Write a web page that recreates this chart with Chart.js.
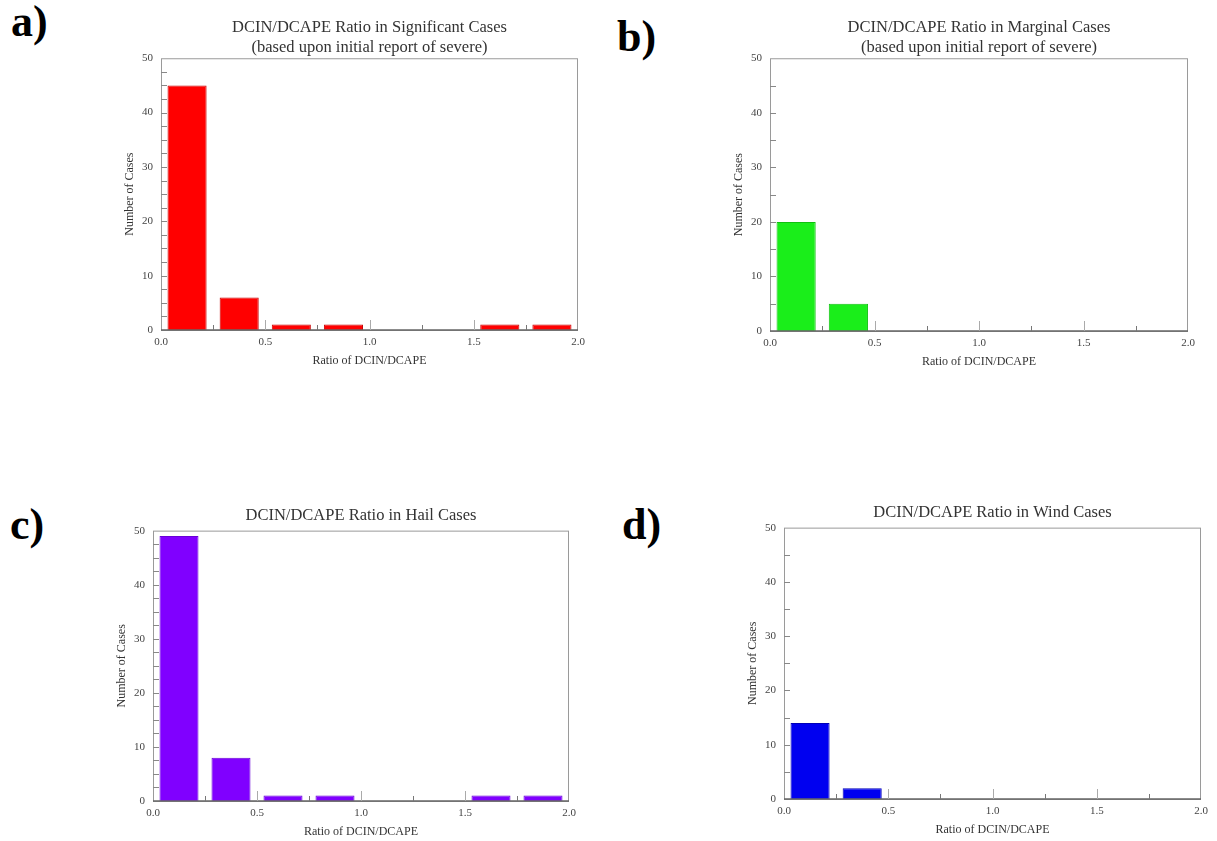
<!DOCTYPE html>
<html>
<head>
<meta charset="utf-8">
<title>DCIN/DCAPE Ratio</title>
<script src="https://cdn.jsdelivr.net/npm/chart.js@4.4.1/dist/chart.umd.min.js"></script>
<style>
  body { margin: 0; background: #fff; width: 1217px; height: 841px; position: relative; overflow: hidden; }
  .panel { position: absolute; }
  .tag { position: absolute; font-family: "Liberation Serif", serif; font-weight: bold; font-size: 44px; line-height: 44px; color: #000; }
</style>
</head>
<body>
<div class="tag" style="left:11px;top:0px">a)</div>
<div class="tag" style="left:617px;top:15px">b)</div>
<div class="tag" style="left:10px;top:503px">c)</div>
<div class="tag" style="left:622px;top:503px">d)</div>

<div class="panel" style="left:117px;top:0px;width:477px;height:370px"><canvas id="chartA"></canvas></div>
<div class="panel" style="left:726px;top:0px;width:478px;height:371px"><canvas id="chartB"></canvas></div>
<div class="panel" style="left:109px;top:480px;width:476px;height:361px"><canvas id="chartC"></canvas></div>
<div class="panel" style="left:740px;top:480px;width:477px;height:359px"><canvas id="chartD"></canvas></div>

<script>
// histogram bins of 0.25 (centres) and the counts
var binCenters = [0.125, 0.375, 0.625, 0.875, 1.125, 1.375, 1.625, 1.875];
var significantCases = [45, 6, 1, 1, 0, 0, 1, 1];
var marginalCases = [20, 5, 0, 0, 0, 0, 0, 0];
var hailCases = [49, 8, 1, 1, 0, 0, 1, 1];
var windCases = [14, 2, 0, 0, 0, 0, 0, 0];

var xTickValues = [0.0, 0.5, 1.0, 1.5, 2.0];
var xMinorTicks = [0.25, 0.5, 0.75, 1.0, 1.25, 1.5, 1.75];
var yTickValues = [0, 10, 20, 30, 40, 50];
var xLabel = "Ratio of DCIN/DCAPE";
var yLabel = "Number of Cases";

var serif = '"Liberation Serif", "Times New Roman", serif';

// plot box and the little inward tick marks
var framePlugin = {
  id: 'frame',
  afterDatasetsDraw: function(chart, args, opts) {
    var a = chart.chartArea, ctx = chart.ctx;
    var xs = chart.scales.x, ys = chart.scales.y;
    ctx.save();
    ctx.lineWidth = 1;
    ctx.strokeStyle = '#9a9a9a';
    ctx.strokeRect(a.left + 0.5, a.top + 0.5, a.right - a.left - 1, a.bottom - a.top);
    ctx.strokeStyle = '#666';
    ctx.lineWidth = 1.5;
    ctx.beginPath();
    ctx.moveTo(a.left, a.bottom);
    ctx.lineTo(a.right, a.bottom);
    ctx.stroke();

    ctx.lineWidth = 1;
    xMinorTicks.forEach(function(v) {
      var px = Math.round(xs.getPixelForValue(v)) + 0.5;
      var len = (v * 2) % 1 === 0 ? 10 : 5;
      ctx.strokeStyle = (v * 2) % 1 === 0 ? '#aaa' : '#777';
      ctx.beginPath();
      ctx.moveTo(px, a.bottom);
      ctx.lineTo(px, a.bottom - len);
      ctx.stroke();
    });

    ctx.strokeStyle = '#888';
    for (var v = opts.yStep; v < 50; v += opts.yStep) {
      var py = Math.round(ys.getPixelForValue(v)) + 0.5;
      ctx.beginPath();
      ctx.moveTo(a.left, py);
      ctx.lineTo(a.left + 6, py);
      ctx.stroke();
    }
    ctx.restore();
  }
};

function makeChart(id, titleText, values, fill, edge, yStep, titlePad) {
  return new Chart(document.getElementById(id), {
    type: 'bar',
    data: {
      datasets: [{
        data: binCenters.map(function(x, i) { return { x: x, y: values[i] }; }),
        backgroundColor: fill,
        borderColor: edge,
        borderWidth: 1,
        barPercentage: 0.75,
        categoryPercentage: 1
      }]
    },
    options: {
      responsive: true,
      maintainAspectRatio: false,
      animation: false,
      layout: { padding: { left: 0, right: 16, top: 0, bottom: 0 } },
      scales: {
        x: {
          type: 'linear',
          min: 0,
          max: 2,
          offset: false,
          grid: { display: false, drawTicks: false },
          border: { display: false },
          afterBuildTicks: function(axis) {
            axis.ticks = xTickValues.map(function(v) { return { value: v }; });
          },
          afterFit: function(axis) { axis.height = 40; },
          ticks: {
            padding: 6,
            maxRotation: 0,
            color: '#444',
            font: { family: serif, size: 11 },
            callback: function(v) { return Number(v).toFixed(1); }
          },
          title: {
            display: true,
            text: xLabel,
            color: '#333',
            font: { family: serif, size: 12 },
            padding: { top: 0, bottom: 2 }
          }
        },
        y: {
          min: 0,
          max: 50,
          grid: { display: false, drawTicks: false },
          border: { display: false },
          afterBuildTicks: function(axis) {
            axis.ticks = yTickValues.map(function(v) { return { value: v }; });
          },
          afterFit: function(axis) { axis.width = 44; },
          ticks: {
            padding: 8,
            color: '#444',
            font: { family: serif, size: 11 }
          },
          title: {
            display: true,
            text: yLabel,
            color: '#333',
            font: { family: serif, size: 12 },
            padding: { top: 6, bottom: 0 }
          }
        }
      },
      plugins: {
        legend: { display: false },
        tooltip: { enabled: false },
        title: {
          display: true,
          text: titleText,
          fullSize: false,
          color: '#333',
          font: { family: serif, size: 16.5, weight: 'normal', lineHeight: 1.25 },
          padding: titlePad
        },
        frame: { yStep: yStep }
      }
    },
    plugins: [framePlugin]
  });
}

makeChart('chartA',
  ['DCIN/DCAPE Ratio in Significant Cases', '(based upon initial report of severe)'],
  significantCases, '#ff0000', '#c80000', 2.5, { top: 17, bottom: 0 });
makeChart('chartB',
  ['DCIN/DCAPE Ratio in Marginal Cases', '(based upon initial report of severe)'],
  marginalCases, '#1aee1a', '#10c010', 5, { top: 17, bottom: 0 });
makeChart('chartC', 'DCIN/DCAPE Ratio in Hail Cases',
  hailCases, '#8000ff', '#6a00d8', 2.5, { top: 25, bottom: 5 });
makeChart('chartD', 'DCIN/DCAPE Ratio in Wind Cases',
  windCases, '#0000f0', '#0000b8', 5, { top: 22, bottom: 5 });
</script>
</body>
</html>
